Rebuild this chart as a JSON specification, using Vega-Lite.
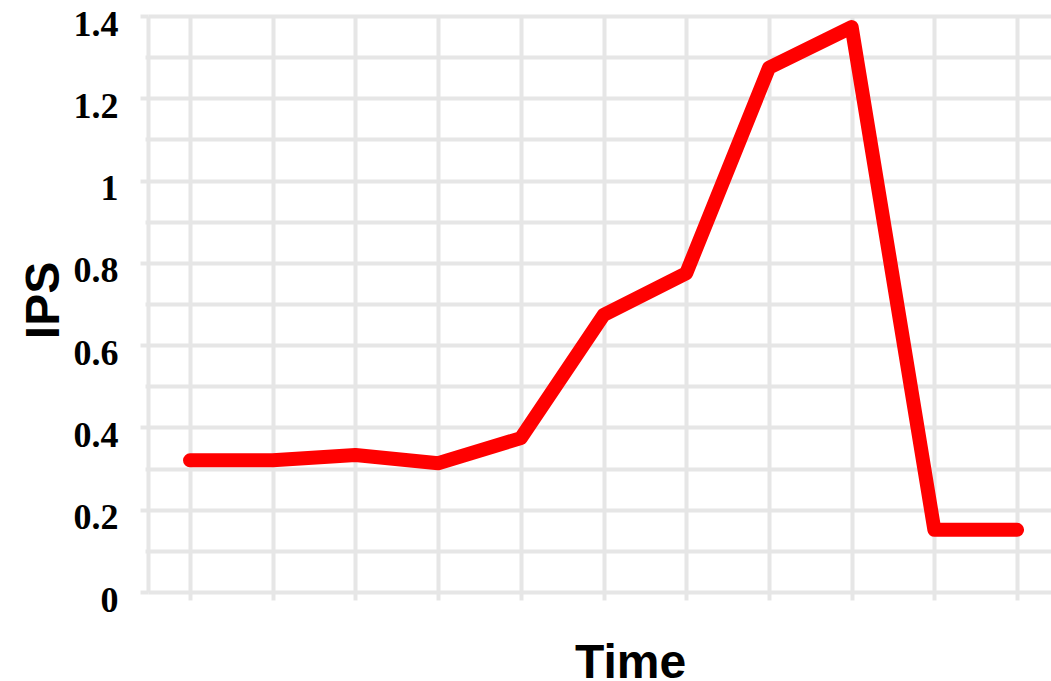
{
  "$schema": "https://vega.github.io/schema/vega-lite/v6.json",
  "width": 903,
  "height": 576,
  "autosize": {"type": "none"},
  "padding": {"left": 148, "top": 16, "right": 0, "bottom": 89},
  "background": "white",
  "config": {"view": {"stroke": null}},
  "data": {
    "values": [
      {"time": 1, "ips": 0.32},
      {"time": 2, "ips": 0.32},
      {"time": 3, "ips": 0.333},
      {"time": 4, "ips": 0.313},
      {"time": 5, "ips": 0.374},
      {"time": 6, "ips": 0.673},
      {"time": 7, "ips": 0.775},
      {"time": 8, "ips": 1.274},
      {"time": 9, "ips": 1.373},
      {"time": 10, "ips": 0.151},
      {"time": 11, "ips": 0.151}
    ]
  },
  "mark": {"type": "line", "color": "#ff0000", "strokeWidth": 14, "strokeCap": "round", "strokeJoin": "round"},
  "encoding": {
    "x": {
      "field": "time",
      "type": "quantitative",
      "scale": {"domain": [0.492, 11.41], "nice": false, "zero": false},
      "axis": {
        "values": [1, 2, 3, 4, 5, 6, 7, 8, 9, 10, 11],
        "grid": true,
        "gridColor": "#e6e6e6",
        "gridWidth": 4,
        "domain": false,
        "ticks": true,
        "tickSize": 8,
        "tickColor": "#e6e6e6",
        "tickWidth": 4,
        "labels": false,
        "title": "Time",
        "titleFont": "Liberation Sans",
        "titleFontSize": 48,
        "titleFontWeight": "bold",
        "titleColor": "#000000",
        "titleX": 482,
        "titleY": 85,
        "titleAlign": "center",
        "titleBaseline": "alphabetic"
      }
    },
    "y": {
      "field": "ips",
      "type": "quantitative",
      "scale": {"domain": [0, 1.4], "nice": false},
      "axis": {
        "values": [0, 0.1, 0.2, 0.3, 0.4, 0.5, 0.6, 0.7, 0.8, 0.9, 1, 1.1, 1.2, 1.3, 1.4],
        "labelExpr": "round(datum.value*10) % 2 == 0 ? toString(round(datum.value*10)/10) : ''",
        "grid": true,
        "gridColor": "#e6e6e6",
        "gridWidth": 4,
        "domain": true,
        "domainColor": "#e6e6e6",
        "domainWidth": 4,
        "ticks": true,
        "tickColor": "#e6e6e6",
        "tickWidth": 4,
        "tickSize": {"condition": {"test": "round(datum.value*10) % 2 == 0", "value": 8}, "value": 3},
        "labelFont": "Liberation Serif",
        "labelFontSize": 36,
        "labelFontWeight": "bold",
        "labelColor": "#000000",
        "labelPadding": 22,
        "labelOffset": 8,
        "labelBaseline": "middle",
        "title": "IPS",
        "titleFont": "Liberation Sans",
        "titleFontSize": 48,
        "titleFontWeight": "bold",
        "titleColor": "#000000",
        "titleAngle": -90,
        "titleX": -90,
        "titleY": 284,
        "titleAlign": "center",
        "titleBaseline": "alphabetic"
      }
    }
  }
}
